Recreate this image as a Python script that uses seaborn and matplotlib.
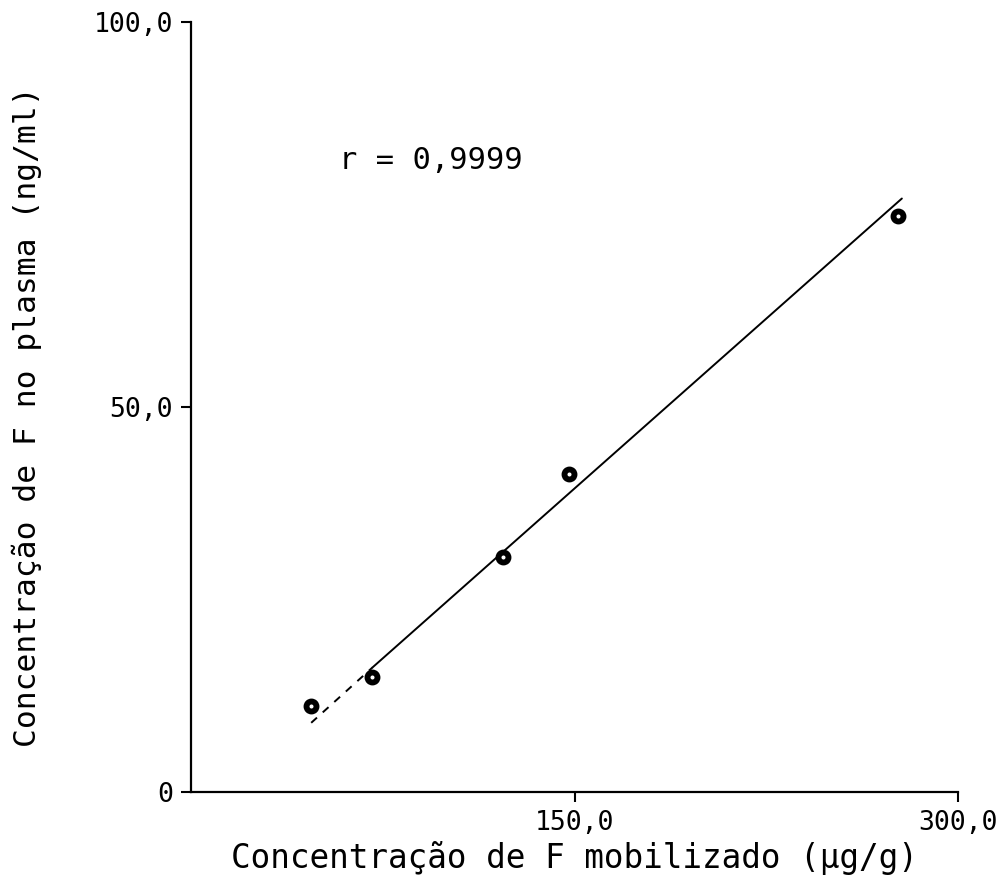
import matplotlib
matplotlib.use("Agg")
import matplotlib.pyplot as plt
import seaborn as sns
import pandas as pd
import numpy as np

# Data
mobilized_F = [46.9, 70.8, 122.0, 147.8, 276.5]      # µg/g
plasma_F = [11.2, 14.9, 30.5, 41.3, 74.8]            # ng/ml

# Regression line as drawn (dashed extrapolated part + solid part)
fit_dashed_x = [47.0, 71.0]
fit_dashed_y = [9.0, 16.2]
fit_solid_x = [71.0, 278.0]
fit_solid_y = [16.2, 77.1]

x_ticks = [150, 300]
x_ticklabels = ["150,0", "300,0"]
y_ticks = [0, 50, 100]
y_ticklabels = ["0", "50,0", "100,0"]

sns.set_theme(style="ticks")
plt.rcParams["font.family"] = ["DejaVu Sans Mono", "DejaVu Sans"]

fig = plt.figure(figsize=(9.97, 8.89), dpi=100)
ax = fig.add_axes([0.1916, 0.109, 0.961 - 0.1916, 0.975 - 0.109])

df = pd.DataFrame({"x": mobilized_F, "y": plasma_F})
sns.lineplot(x=fit_dashed_x, y=fit_dashed_y, ax=ax, color="black", lw=1.4,
             linestyle=(0, (4, 4)))
sns.lineplot(x=fit_solid_x, y=fit_solid_y, ax=ax, color="black", lw=1.4)
sns.scatterplot(data=df, x="x", y="y", ax=ax, s=52, marker="o",
                facecolor="white", edgecolor="black", linewidth=4.2, zorder=5)

ax.set_xlim(0, 300)
ax.set_ylim(0, 100)
ax.set_xticks(x_ticks)
ax.set_xticklabels(x_ticklabels)
ax.set_yticks(y_ticks)
ax.set_yticklabels(y_ticklabels)
ax.tick_params(axis="both", direction="out", length=7, width=1.5,
               color="black", labelsize=19, labelcolor="black", pad=6)

for s in ["top", "right"]:
    ax.spines[s].set_visible(False)
for s in ["left", "bottom"]:
    ax.spines[s].set_linewidth(1.6)
    ax.spines[s].set_color("black")

ax.set_xlabel("Concentração de F mobilizado (µg/g)", fontsize=23.5, color="black")
ax.set_ylabel("Concentração de F no plasma (ng/ml)", fontsize=22.5, color="black")
ax.xaxis.set_label_coords(0.5, -0.063)
ax.yaxis.set_label_coords(-0.194, 0.487)

ax.text(58, 81, "r = 0,9999", fontsize=22, color="black")

fig.savefig("out.png", dpi=100, facecolor="white")
